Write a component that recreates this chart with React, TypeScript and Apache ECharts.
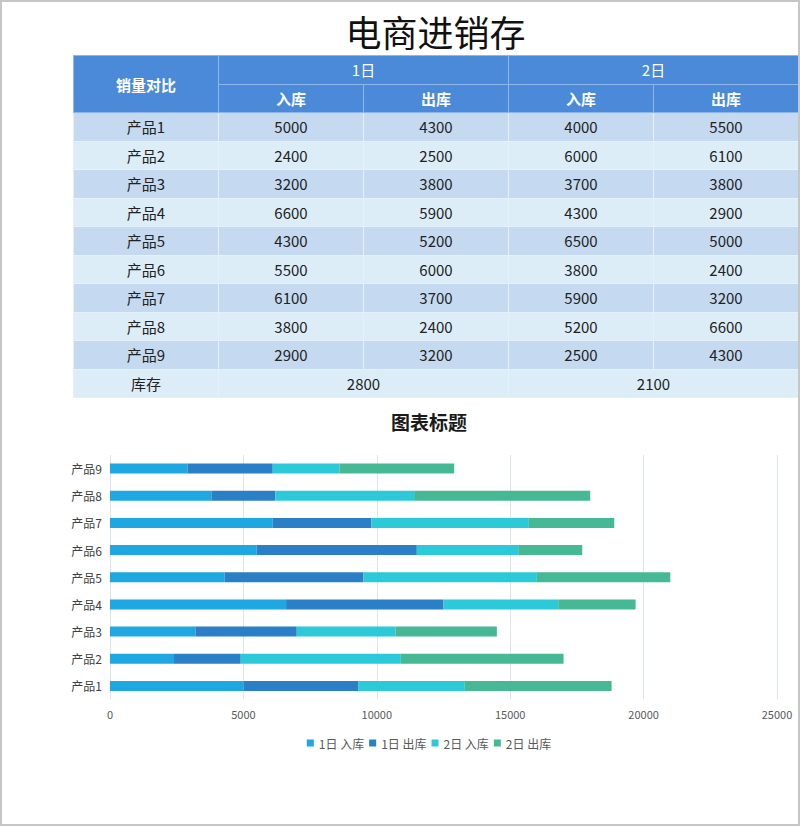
import React, { useEffect, useRef } from "react";
import * as echarts from "echarts";

// 表格与图表数据
const products = ["产品1", "产品2", "产品3", "产品4", "产品5", "产品6", "产品7", "产品8", "产品9"];
const days = ["1日", "2日"];
const kinds = ["入库", "出库"];
const day1In = [5000, 2400, 3200, 6600, 4300, 5500, 6100, 3800, 2900];
const day1Out = [4300, 2500, 3800, 5900, 5200, 6000, 3700, 2400, 3200];
const day2In = [4000, 6000, 3700, 4300, 6500, 3800, 5900, 5200, 2500];
const day2Out = [5500, 6100, 3800, 2900, 5000, 2400, 3200, 6600, 4300];
const stock = [2800, 2100];
const xTicks = [0, 5000, 10000, 15000, 20000, 25000];

const seriesColors = ["#1ea7e1", "#2a7fc6", "#2ccad8", "#46b894"];
const font = '"Noto Sans CJK SC", "Noto Sans", sans-serif';

const rowH = 28.5;
const colW = 145;

const cellBase: React.CSSProperties = {
  height: rowH,
  padding: 0,
  textAlign: "center",
  verticalAlign: "middle",
  border: "1px solid #e6f0fa",
  boxSizing: "border-box",
  fontSize: 15,
  color: "#222",
  lineHeight: "1",
};

const headCell: React.CSSProperties = {
  ...cellBase,
  background: "#4a8ad8",
  color: "#ffffff",
  border: "1px solid #8fb6ea",
  fontWeight: "bold",
};

const App: React.FC = () => {
  const chartRef = useRef<HTMLDivElement>(null);

  useEffect(() => {
    const myChart = echarts.init(chartRef.current, null, { renderer: "svg" });
    const seriesData = [day1In, day1Out, day2In, day2Out];
    const names: string[] = [];
    days.forEach((d) => kinds.forEach((k) => names.push(d + " " + k)));
    const option: echarts.EChartsOption = {
      animation: false,
      color: seriesColors,
      textStyle: { fontFamily: font },
      title: {
        text: "图表标题",
        left: "center",
        top: 7,
        textStyle: { fontSize: 19, fontWeight: "bold", color: "#1a1a1a", fontFamily: font },
      },
      legend: {
        top: 332,
        left: "center",
        icon: "rect",
        itemWidth: 7,
        itemHeight: 7,
        itemGap: 5,
        textStyle: { fontSize: 12, color: "#595959", fontFamily: font },
        data: names,
      },
      grid: { left: 50, right: 21, top: 55, bottom: 124.5 },
      xAxis: {
        type: "value",
        min: xTicks[0],
        max: xTicks[xTicks.length - 1],
        interval: xTicks[1] - xTicks[0],
        axisLine: { show: false },
        axisTick: { show: false },
        axisLabel: { color: "#595959", fontSize: 11, margin: 9, formatter: (v: number) => String(v) },
        splitLine: { show: true, lineStyle: { color: "#dbe6f2", width: 1 } },
      },
      yAxis: {
        type: "category",
        data: products,
        axisLine: { show: false },
        axisTick: { show: false },
        axisLabel: { color: "#404040", fontSize: 12, margin: 8 },
      },
      series: names.map((n, i) => ({
        name: n,
        type: "bar",
        stack: "总量",
        barWidth: 10,
        data: seriesData[i],
      })),
    };
    myChart.setOption(option);
    return () => {
      myChart.dispose();
    };
  }, []);

  const rows = products.map((p, i) => [p, day1In[i], day1Out[i], day2In[i], day2Out[i]]);

  return (
    <div
      style={{
        position: "absolute",
        left: 0,
        top: 0,
        width: 800,
        height: 826,
        boxSizing: "border-box",
        border: "2px solid #c6c6c6",
        background: "#ffffff",
        fontFamily: font,
        overflow: "hidden",
      }}
    >
      <div
        style={{
          position: "absolute",
          left: 71,
          top: 6,
          width: colW * 5,
          textAlign: "center",
          fontSize: 36,
          lineHeight: "46px",
          color: "#111",
        }}
      >
        电商进销存
      </div>
      <table
        style={{
          position: "absolute",
          left: 71,
          top: 53,
          width: colW * 5,
          borderCollapse: "collapse",
          tableLayout: "fixed",
        }}
      >
        <colgroup>
          {[0, 1, 2, 3, 4].map((c) => (
            <col key={c} style={{ width: colW }} />
          ))}
        </colgroup>
        <tbody>
          <tr>
            <td rowSpan={2} style={{ ...headCell, height: rowH * 2 }}>
              销量对比
            </td>
            {days.map((d) => (
              <td key={d} colSpan={2} style={{ ...headCell, fontWeight: "normal" }}>
                {d}
              </td>
            ))}
          </tr>
          <tr>
            {days.map((d) =>
              kinds.map((k) => (
                <td key={d + k} style={headCell}>
                  {k}
                </td>
              ))
            )}
          </tr>
          {rows.map((r, i) => (
            <tr key={i} style={{ background: i % 2 === 0 ? "#c5d9f0" : "#ddedf8" }}>
              {r.map((v, j) => (
                <td key={j} style={cellBase}>
                  {v}
                </td>
              ))}
            </tr>
          ))}
          <tr style={{ background: "#ddedf8" }}>
            <td style={cellBase}>库存</td>
            {stock.map((s, j) => (
              <td key={j} colSpan={2} style={cellBase}>
                {s}
              </td>
            ))}
          </tr>
        </tbody>
      </table>
      <div
        ref={chartRef}
        style={{ position: "absolute", left: 58, top: 398, width: 738, height: 424 }}
      />
    </div>
  );
};

export default App;
